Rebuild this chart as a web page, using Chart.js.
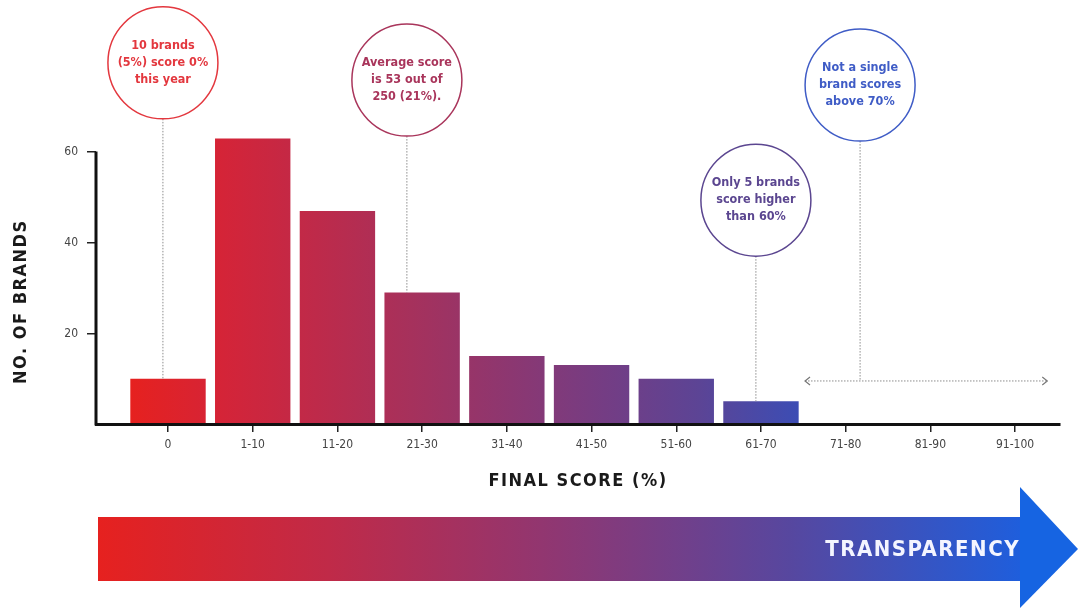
<!DOCTYPE html>
<html>
<head>
<meta charset="utf-8">
<title>Final score distribution</title>
<script src="https://cdn.jsdelivr.net/npm/chart.js@4/dist/chart.umd.min.js"></script>
<style>
  html, body { margin: 0; padding: 0; background: #fff; }
  #c { display: block; }
</style>
</head>
<body>
<canvas id="c" width="1078" height="610"></canvas>
<script>
// Score bands and how many brands fall in each
const categories = ['0', '1-10', '11-20', '21-30', '31-40', '41-50', '51-60', '61-70', '71-80', '81-90', '91-100'];
const brandCounts = [10, 63, 47, 29, 15, 13, 10, 5, 0, 0, 0];
const yTickValues = [20, 40, 60];

const yAxisTitle = 'NO. OF BRANDS';
const xAxisTitle = 'FINAL SCORE (%)';
const arrowLabel = 'TRANSPARENCY';

// Call-out bubbles: text lines, bubble centre in data units, and what the leader line points at
const calloutText = [
  ['10 brands', '(5%) score 0%', 'this year'],
  ['Average score', 'is 53 out of', '250 (21%).'],
  ['Only 5 brands', 'score higher', 'than 60%'],
  ['Not a single', 'brand scores', 'above 70%']
];
const calloutX = [-0.06, 2.82, 6.94, 8.17];
const calloutY = [79.7, 75.9, 49.4, 74.8];
const calloutTarget = [0, 3, 7, 'empty'];
const calloutColors = ['#e3373e', '#a9355b', '#5b4690', '#3f5cc6'];

// Band range with no brands at all (71-100)
const emptyRange = { from: 7.52, to: 10.38, level: 9.5 };

const FONT = '"DejaVu Sans Condensed", "Liberation Sans Narrow", "Roboto", sans-serif';

let barGradient = null;
function barFill(ctx) {
  const chart = ctx.chart;
  if (!chart.chartArea) return '#c0283f';
  if (!barGradient) {
    const xs = chart.scales.x;
    const g = chart.ctx.createLinearGradient(xs.getPixelForValue(-0.45), 0, xs.getPixelForValue(7.45), 0);
    g.addColorStop(0.00, '#e6211f');
    g.addColorStop(0.14, '#d42438');
    g.addColorStop(0.28, '#be2a4a');
    g.addColorStop(0.42, '#a6315c');
    g.addColorStop(0.57, '#8c3771');
    g.addColorStop(0.71, '#743d84');
    g.addColorStop(0.85, '#5c4495');
    g.addColorStop(1.00, '#3c4db4');
    barGradient = g;
  }
  return barGradient;
}

function dottedLine(ctx, x1, y1, x2, y2) {
  ctx.save();
  ctx.strokeStyle = '#8c8c8c';
  ctx.lineWidth = 1;
  ctx.setLineDash([1.5, 1.5]);
  ctx.beginPath();
  ctx.moveTo(x1, y1);
  ctx.lineTo(x2, y2);
  ctx.stroke();
  ctx.restore();
}

const decorations = {
  id: 'decorations',
  afterDatasetsDraw(chart) {
    const { ctx, chartArea, scales: { y } } = chart;
    // vertical axis line, running from 0 up to the top tick
    ctx.save();
    ctx.strokeStyle = '#111';
    ctx.lineWidth = 3;
    ctx.beginPath();
    ctx.moveTo(chartArea.left, y.getPixelForValue(yTickValues[yTickValues.length - 1]) - 0.75);
    ctx.lineTo(chartArea.left, chartArea.bottom + 1.5);
    ctx.stroke();
    ctx.restore();
  },
  afterDraw(chart) {
    const { ctx, chartArea, scales: { x, y } } = chart;
    const W = chart.width;

    // axis titles
    ctx.save();
    ctx.fillStyle = '#1a1a1a';
    ctx.font = 'bold 18px ' + FONT;
    ctx.letterSpacing = '1.5px';
    ctx.textAlign = 'center';
    ctx.textBaseline = 'middle';
    ctx.fillText(xAxisTitle, (chartArea.left + chartArea.right) / 2, chartArea.bottom + 57);
    ctx.translate(21, y.getPixelForValue(27));
    ctx.rotate(-Math.PI / 2);
    ctx.fillText(yAxisTitle, 0, 0);
    ctx.restore();

    // range with no brands: dotted double-headed arrow
    const rx1 = x.getPixelForValue(emptyRange.from);
    const rx2 = x.getPixelForValue(emptyRange.to);
    const ry = y.getPixelForValue(emptyRange.level);
    dottedLine(ctx, rx1, ry, rx2, ry);
    ctx.save();
    ctx.strokeStyle = '#777';
    ctx.lineWidth = 1.2;
    ctx.beginPath();
    ctx.moveTo(rx1 + 5, ry - 4); ctx.lineTo(rx1, ry); ctx.lineTo(rx1 + 5, ry + 4);
    ctx.moveTo(rx2 - 5, ry - 4); ctx.lineTo(rx2, ry); ctx.lineTo(rx2 - 5, ry + 4);
    ctx.stroke();
    ctx.restore();

    // call-out bubbles with leader lines
    const rx = 55, ryB = 56;
    calloutText.forEach((lines, i) => {
      const cx = x.getPixelForValue(calloutX[i]);
      const cy = y.getPixelForValue(calloutY[i]);
      const t = calloutTarget[i];
      const endY = t === 'empty' ? ry : y.getPixelForValue(brandCounts[t]);
      dottedLine(ctx, cx, cy + ryB, cx, endY);
      ctx.save();
      ctx.fillStyle = '#fff';
      ctx.strokeStyle = calloutColors[i];
      ctx.lineWidth = 1.5;
      ctx.beginPath();
      ctx.ellipse(cx, cy, rx, ryB, 0, 0, Math.PI * 2);
      ctx.fill();
      ctx.stroke();
      ctx.fillStyle = calloutColors[i];
      ctx.font = 'bold 12.5px ' + FONT;
      ctx.textAlign = 'center';
      ctx.textBaseline = 'middle';
      const lh = 17;
      lines.forEach((ln, k) => {
        ctx.fillText(ln, cx, cy + (k - (lines.length - 1) / 2) * lh);
      });
      ctx.restore();
    });

    // transparency arrow under the chart
    const bodyL = chartArea.left + 2;
    const headX = W - 58;
    const bodyT = chartArea.bottom + 93;
    const bodyB = chartArea.bottom + 157;
    const headT = chartArea.bottom + 63;
    const headB = chartArea.bottom + 184;
    const midY = (bodyT + bodyB) / 2;
    ctx.save();
    const g = ctx.createLinearGradient(bodyL, 0, headX, 0);
    g.addColorStop(0.00, '#e6211f');
    g.addColorStop(0.25, '#c02a48');
    g.addColorStop(0.50, '#8e3773');
    g.addColorStop(0.75, '#57479f');
    g.addColorStop(1.00, '#1f5edc');
    ctx.fillStyle = g;
    ctx.fillRect(bodyL, bodyT, headX - bodyL, bodyB - bodyT);
    ctx.fillStyle = '#1664e2';
    ctx.beginPath();
    ctx.moveTo(headX, headT);
    ctx.lineTo(W, midY);
    ctx.lineTo(headX, headB);
    ctx.closePath();
    ctx.fill();
    ctx.fillStyle = '#f4f5ff';
    ctx.font = 'bold 22px ' + FONT;
    ctx.letterSpacing = '1.5px';
    ctx.textAlign = 'right';
    ctx.textBaseline = 'middle';
    ctx.fillText(arrowLabel, headX, midY + 1);
    ctx.restore();
  }
};

new Chart(document.getElementById('c'), {
  type: 'bar',
  data: {
    datasets: [{
      data: brandCounts.map((v, i) => ({ x: i, y: v })),
      backgroundColor: barFill,
      borderWidth: 0,
      barPercentage: 0.89,
      categoryPercentage: 1
    }]
  },
  options: {
    responsive: false,
    animation: false,
    events: [],
    layout: { padding: { top: 16, right: 18, left: 0, bottom: 0 } },
    plugins: { legend: { display: false }, tooltip: { enabled: false } },
    scales: {
      x: {
        type: 'linear',
        offset: false,
        min: -0.85,
        max: 10.53,
        afterBuildTicks: s => { s.ticks = categories.map((_, i) => ({ value: i })); },
        afterFit: s => { s.height = 186; },
        ticks: {
          callback: v => categories[v],
          color: '#444',
          font: { family: FONT, size: 12 },
          padding: 6,
          maxRotation: 0,
          autoSkip: false
        },
        grid: { offset: false, drawOnChartArea: false, drawTicks: true, tickLength: 8, color: '#222', lineWidth: 1.5 },
        border: { display: true, color: '#111', width: 3, z: 1 }
      },
      y: {
        min: 0,
        max: 90,
        afterBuildTicks: s => { s.ticks = yTickValues.map(v => ({ value: v })); },
        afterFit: s => { s.width = 96; },
        ticks: {
          color: '#444',
          font: { family: FONT, size: 12 },
          padding: 9
        },
        grid: { drawOnChartArea: false, drawTicks: true, tickLength: 9, color: '#222', lineWidth: 1.5 },
        border: { display: false }
      }
    }
  },
  plugins: [decorations]
});
</script>
</body>
</html>
